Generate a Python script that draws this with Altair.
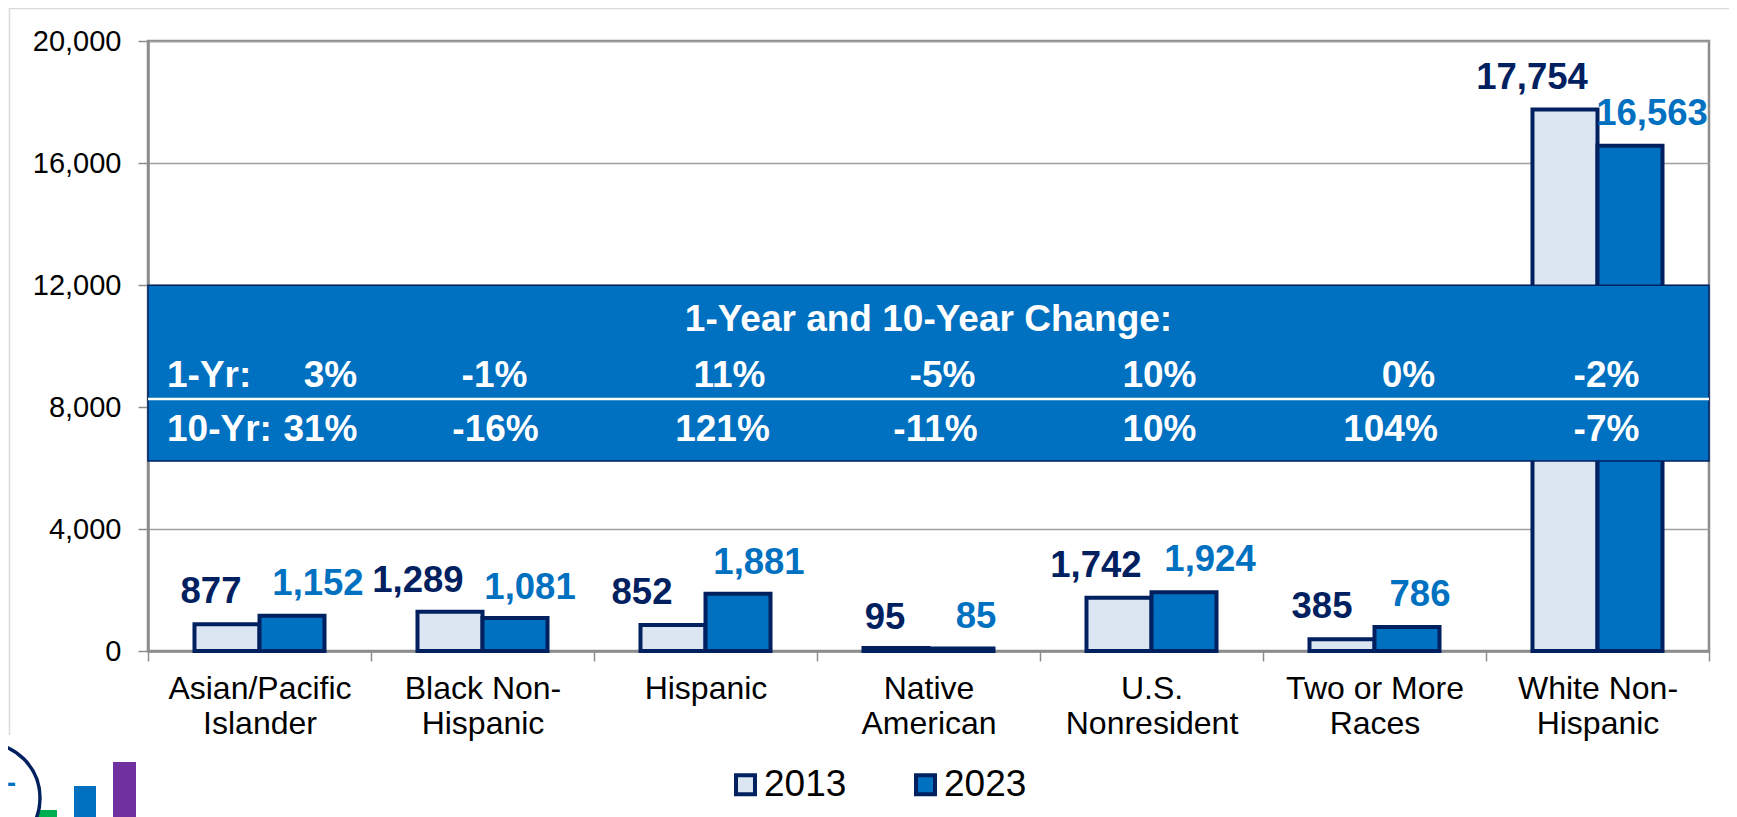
import altair as alt
import pandas as pd

categories = ["Asian/Pacific Islander", "Black Non-Hispanic", "Hispanic", "Native American",
              "U.S. Nonresident", "Two or More Races", "White Non-Hispanic"]
cat_lines = ["Asian/Pacific|Islander", "Black Non-|Hispanic", "Hispanic", "Native|American",
             "U.S.|Nonresident", "Two or More|Races", "White Non-|Hispanic"]
values_2013 = [877, 1289, 852, 95, 1742, 385, 17754]
values_2023 = [1152, 1081, 1881, 85, 1924, 786, 16563]
one_year = ["3%", "-1%", "11%", "-5%", "10%", "0%", "-2%"]
ten_year = ["31%", "-16%", "121%", "-11%", "10%", "104%", "-7%"]

# label nudges (px) reproducing the hand-placed labels
off_2013 = [(-16, -32), (-32, -31), (-31, -32), (-11, -30), (-23, -32), (-20, -32), (-33, -32)]
off_2023 = [(26, -32), (15, -30), (21, -31), (15, -31), (26, -32), (13, -32), (22, -32)]
off_1yr = [71, 12, 24, 14, 8, 34, 9]
off_10yr = [61, 13, 17, 7, 8, 16, 9]

W, H = 1561, 610
NAVY, BLUE, PALE = "#002060", "#0070c0", "#dce6f2"
GREY = "#8c8c8c"
FONT = "Liberation Sans"

rows = []
for c, a, b in zip(categories, values_2013, values_2023):
    rows.append({"cat": c, "year": "2013", "v": a})
    rows.append({"cat": c, "year": "2023", "v": b})
df = pd.DataFrame(rows)

label_expr = "split({'" + "','".join(f"{c}':'{l}" for c, l in zip(categories, cat_lines)) + "'}[datum.value]||'','|')"

x_axis = alt.Axis(labelAngle=0, labelFontSize=32, labelColor="#000000", labelFont=FONT, labelLimit=400,
                  labelExpr=label_expr, labelLineHeight=35, labelPadding=12, labelBaseline="top",
                  tickBand="extent", tickSize=10, tickColor=GREY, tickWidth=1.5,
                  domainColor=GREY, domainWidth=2.5, grid=False, title=None)
y_axis = alt.Axis(values=[0, 4000, 8000, 12000, 16000, 20000], labelExpr="format(datum.value, ',')", labelFontSize=29,
                  labelColor="#000000", labelFont=FONT, labelPadding=17, tickSize=10,
                  tickColor=GREY, tickWidth=1.5, domainColor=GREY, domainWidth=2.5,
                  grid=True, gridColor="#a0a0a0", gridWidth=1.5, title=None)
x = alt.X("cat:N", sort=categories, scale=alt.Scale(paddingInner=0, paddingOuter=0), axis=x_axis)
y_scale = alt.Scale(domain=[0, 20000], nice=False)
def yq(f="v:Q"): return alt.Y(f, scale=y_scale, axis=y_axis)
xo = alt.XOffset("year:N", scale=alt.Scale(domain=["2013", "2023"], paddingInner=0, paddingOuter=0.715))

bars = alt.Chart(df).mark_bar(stroke=NAVY, strokeWidth=4, cornerRadius=0).encode(
    x=x, y=yq(), xOffset=xo,
    fill=alt.Fill("year:N", scale=alt.Scale(domain=["2013", "2023"], range=[PALE, BLUE]),
                  legend=alt.Legend(title=None, orient="none", legendX=579, legendY=725, direction="horizontal",
                                    symbolType="square", symbolSize=360, symbolStrokeColor=NAVY,
                                    symbolStrokeWidth=4, labelFontSize=37, labelFont=FONT, labelColor="#000000",
                                    labelOffset=0, columnPadding=60, symbolOpacity=1)))

layers = [bars]

# hand-placed value labels
for year, vals, offs, col in (("2013", values_2013, off_2013, NAVY), ("2023", values_2023, off_2023, BLUE)):
    for c, v, (dx, dy) in zip(categories, vals, offs):
        d = pd.DataFrame([{"cat": c, "year": year, "v": v, "t": f"{v:,}"}])
        layers.append(alt.Chart(d).mark_text(font=FONT, fontWeight="bold", fontSize=36.5, color=col,
                                             dx=dx, dy=dy, baseline="middle", align="center").encode(
            x=x, y=yq(), xOffset=xo, text="t:N"))

# banner
layers.append(alt.Chart(pd.DataFrame([{"a": 11990, "b": 6230}])).mark_rect(
    color=BLUE, opacity=1, stroke=NAVY, strokeWidth=1.5).encode(y=yq("a:Q"), y2="b:Q"))
layers.append(alt.Chart(pd.DataFrame([{"v": 8262}])).mark_rule(color="#ffffff", strokeWidth=2.5).encode(y=yq()))
layers.append(alt.Chart(pd.DataFrame([{"v": 10850, "t": "1-Year and 10-Year Change:"}])).mark_text(
    font=FONT, fontWeight="bold", fontSize=37, color="#ffffff", baseline="middle").encode(
    x=alt.value(W / 2), y=yq(), text="t:N"))
for row_v, head, labels, offs in ((9016, "1-Yr:", one_year, off_1yr), (7246, "10-Yr:", ten_year, off_10yr)):
    layers.append(alt.Chart(pd.DataFrame([{"v": row_v, "t": head}])).mark_text(
        font=FONT, fontWeight="bold", fontSize=37, color="#ffffff", baseline="middle", align="left").encode(
        x=alt.value(19), y=yq(), text="t:N"))
    for c, l, dx in zip(categories, labels, offs):
        layers.append(alt.Chart(pd.DataFrame([{"cat": c, "v": row_v, "t": l}])).mark_text(
            font=FONT, fontWeight="bold", fontSize=37, color="#ffffff", baseline="middle", dx=dx).encode(
            x=x, y=yq(), text="t:N"))

# page frame and the clipped neighbouring logo
OX, OY = 140, 33
def px(v): return v - 8 - OX
def py(v): return v - 8 - OY
dummy = pd.DataFrame([{"k": 0}])
layers.append(alt.Chart(dummy).mark_rule(color="#d9d9d9", strokeWidth=1.5, clip=False).encode(
    x=alt.value(px(9.5)), y=alt.value(py(8)), y2=alt.value(py(735))))
layers.append(alt.Chart(dummy).mark_rule(color="#d9d9d9", strokeWidth=1.5, clip=False).encode(
    x=alt.value(px(9.5)), x2=alt.value(px(1729)), y=alt.value(py(8.5))))
for x0, x1, top, col in ((38, 57, 810, "#00b050"), (74, 96, 786, BLUE), (113, 136, 762, "#7030a0")):
    layers.append(alt.Chart(dummy).mark_rect(color=col, clip=False).encode(
        x=alt.value(px(x0)), x2=alt.value(px(x1)), y=alt.value(py(top)), y2=alt.value(py(830))))
layers.append(alt.Chart(dummy).mark_point(shape="circle", size=12100, color=NAVY, strokeWidth=3.5, filled=False,
                                          opacity=1, clip=False).encode(
    x=alt.value(px(-15)), y=alt.value(py(798))))
layers.append(alt.Chart(pd.DataFrame([{"t": "0-"}])).mark_text(font=FONT, fontWeight="bold", fontSize=27, color=BLUE,
                                                               align="right", baseline="middle", clip=False).encode(
    x=alt.value(px(16)), y=alt.value(py(784)), text="t:N"))

chart = alt.layer(*layers).properties(
    width=W, height=H, autosize=alt.AutoSizeParams(type="none"),
    padding={"left": OX, "top": OY, "right": 20, "bottom": 166}
).configure_view(stroke=GREY, strokeWidth=2.5).configure_axis(labelFlush=False)

chart.save("out.html", embed_options={"renderer": "svg", "actions": False})
